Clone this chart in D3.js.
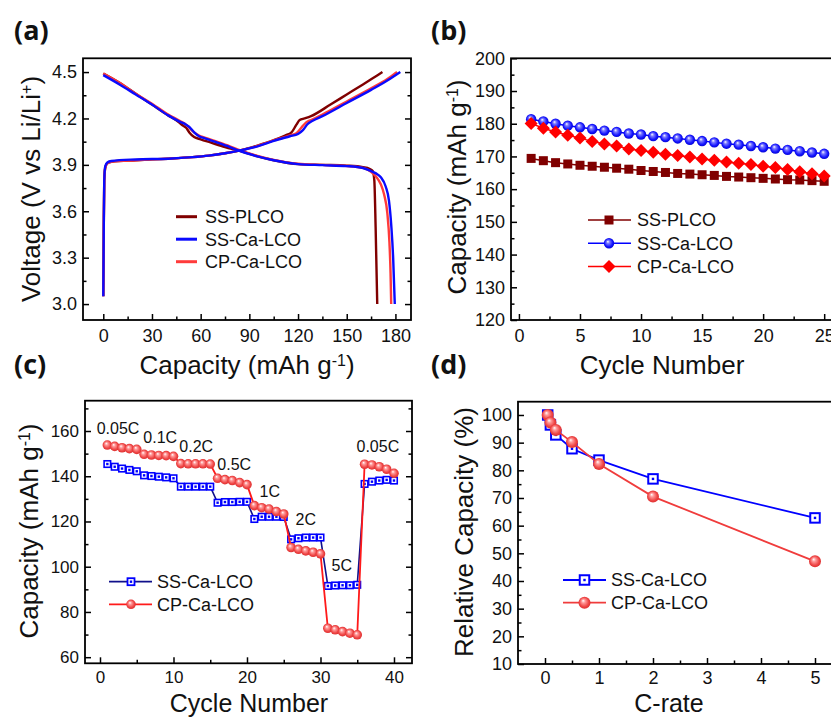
<!DOCTYPE html>
<html><head><meta charset="utf-8">
<script src="https://cdn.jsdelivr.net/npm/d3@7"></script>
<style>
body{margin:0;background:#fff;}
svg{display:block;font-family:"Liberation Sans",Arial,sans-serif;}
</style></head><body>
<svg id="c" width="831" height="718"></svg>
<script>
// ---------- DATA ----------
// (a) voltage profiles [capacity mAh/g, voltage V]
const aPLCOCharge = [[0,3.05],[0.3,3.5],[0.6,3.8],[1.2,3.88],[2.5,3.91],[5,3.92],[20,3.93],[40,3.94],[55,3.95],[65,3.96],[75,3.975],[85,3.995],[95,4.025],[105,4.06],[112,4.09],[116,4.11],[119,4.16],[121,4.19],[124,4.2],[128,4.215],[140,4.29],[150,4.355],[160,4.42],[166,4.46],[172,4.5]];
const aSSCaCharge = [[0,3.05],[0.3,3.5],[0.6,3.8],[1.2,3.89],[2.5,3.915],[5,3.925],[20,3.935],[40,3.94],[55,3.95],[65,3.96],[75,3.975],[85,3.995],[95,4.02],[105,4.055],[115,4.085],[120,4.1],[123,4.125],[126,4.165],[129,4.185],[135,4.215],[150,4.3],[165,4.385],[175,4.445],[183,4.5]];
const aCPCaCharge = [[0,3.05],[0.3,3.5],[0.6,3.8],[1.2,3.88],[2.5,3.91],[5,3.92],[20,3.93],[40,3.94],[55,3.95],[65,3.96],[75,3.975],[85,3.995],[95,4.022],[105,4.058],[115,4.09],[119,4.105],[122,4.14],[125,4.175],[128,4.19],[135,4.225],[150,4.31],[165,4.395],[175,4.455],[181,4.5]];
const aPLCODischarge = [[0,4.49],[10,4.43],[20,4.36],[30,4.29],[40,4.22],[46,4.18],[49,4.155],[51,4.14],[53,4.11],[56,4.08],[60,4.065],[66,4.045],[75,4.015],[84,3.99],[95,3.955],[105,3.93],[120,3.905],[135,3.9],[150,3.895],[160,3.885],[164,3.875],[166,3.86],[167,3.8],[167.8,3.5],[168.8,3.0]];
const aSSCaDischarge = [[0,4.48],[10,4.42],[20,4.355],[30,4.29],[40,4.22],[47,4.18],[51,4.16],[53,4.145],[56,4.11],[59,4.085],[63,4.07],[70,4.045],[78,4.015],[84,3.99],[95,3.955],[105,3.93],[120,3.905],[135,3.898],[150,3.892],[160,3.88],[165,3.86],[168,3.845],[171,3.82],[174,3.76],[176,3.67],[177.5,3.5],[178.6,3.3],[179.6,3.0]];
const aCPCaDischarge = [[0,4.49],[10,4.43],[20,4.36],[30,4.295],[40,4.225],[47,4.185],[51,4.16],[53,4.14],[56,4.11],[59,4.09],[63,4.075],[70,4.05],[78,4.02],[84,3.995],[95,3.958],[105,3.932],[120,3.907],[135,3.9],[150,3.893],[160,3.88],[165,3.855],[168,3.825],[171,3.775],[173,3.71],[175,3.59],[176.3,3.4],[177,3.2],[177.4,3.0]];

// (b) cycling
const bCycles = [1,2,3,4,5,6,7,8,9,10,11,12,13,14,15,16,17,18,19,20,21,22,23,24,25];
const bPLCO = [169.4,168.7,168.1,167.7,167.3,167.0,166.7,166.4,166.1,165.7,165.4,165.1,164.8,164.6,164.4,164.2,163.9,163.7,163.5,163.3,163.1,162.9,162.8,162.6,162.4];
const bSSCa = [181.4,180.7,180.0,179.4,178.9,178.4,177.9,177.5,177.0,176.7,176.2,175.9,175.5,175.1,174.7,174.3,173.9,173.6,173.2,172.8,172.4,172.0,171.6,171.2,170.8];
const bCPCa = [180.1,178.6,177.5,176.5,175.6,174.6,173.8,173.2,172.3,171.8,171.3,170.7,170.3,169.8,169.2,168.8,168.3,167.9,167.5,167.0,166.6,166.0,165.3,164.7,164.0];

// (c) rate performance
const cCycles = [1,2,3,4,5,6,7,8,9,10,11,12,13,14,15,16,17,18,19,20,21,22,23,24,25,26,27,28,29,30,31,32,33,34,35,36,37,38,39,40];
const cSSCa = [145.4,144.2,143.4,142.8,142.2,140.4,140.1,139.8,139.5,139.1,135.4,135.4,135.4,135.4,135.4,128.3,128.6,128.6,128.7,128.7,121.1,122.1,122.1,122.1,122.0,112.1,112.6,112.9,112.9,112.9,91.5,91.7,91.8,91.8,92.0,136.6,137.6,138.1,138.4,138.1];
const cCPCa = [153.8,153.2,152.6,152.2,151.9,149.7,149.4,149.2,149.1,148.8,145.6,145.5,145.5,145.5,145.4,139.1,138.5,138.1,137.2,136.3,127.0,126.1,125.5,124.4,123.3,108.5,107.7,107.0,106.4,105.7,72.8,72.1,71.3,70.6,69.9,145.3,145.0,144.2,143.1,141.3];
const cRateLabels = ["0.05C","0.1C","0.2C","0.5C","1C","2C","5C","0.05C"];
const cRateLabelCycle = [-0.45,5.9,10.8,15.96,21.7,26.6,31.5,34.9];
const cRateLabelCap = [158.7,154.7,150.7,142.8,130.8,118.5,98.1,150.7];

// (d) relative capacity
const dRates = [0.05,0.1,0.2,0.5,1,2,5];
const dSSCa = [100,96.4,92.8,87.8,83.7,76.9,62.8];
const dCPCa = [100,97.3,94.6,90.2,82.3,70.5,47.1];

// tick values
const aXTicks = [0,30,60,90,120,150,180], aXMinor = [15,45,75,105,135,165];
const aYTicks = [3.0,3.3,3.6,3.9,4.2,4.5], aYMinor = [3.15,3.45,3.75,4.05,4.35];
const bXTicks = [0,5,10,15,20,25], bXMinor = [2.5,7.5,12.5,17.5,22.5];
const bYTicks = [120,130,140,150,160,170,180,190,200], bYMinor = [125,135,145,155,165,175,185,195];
const cXTicks = [0,10,20,30,40], cXMinor = [5,15,25,35];
const cYTicks = [60,80,100,120,140,160], cYMinor = [70,90,110,130,150,170];
const dXTicks = [0,1,2,3,4,5], dXMinor = [0.5,1.5,2.5,3.5,4.5];
const dYTicks = [10,20,30,40,50,60,70,80,90,100], dYMinor = [15,25,35,45,55,65,75,85,95];

// ---------- DRAW ----------
const svg = d3.select("#c");
const defs = svg.append("defs");
function sphereGrad(id, c1, c2, c3){
  const g = defs.append("radialGradient").attr("id",id).attr("cx","50%").attr("cy","50%").attr("r","55%").attr("fx","38%").attr("fy","32%");
  g.append("stop").attr("offset","0%").attr("stop-color","#ffffff");
  g.append("stop").attr("offset","28%").attr("stop-color",c1);
  g.append("stop").attr("offset","70%").attr("stop-color",c2);
  g.append("stop").attr("offset","100%").attr("stop-color",c3);
}
sphereGrad("gBlue","#7a7aff","#1414ff","#0000c8");
sphereGrad("gRed","#f99","#ef4646","#d82a2a");

function axes(g, x, y, o){
  const x0=x.range()[0], x1=x.range()[1], yb=y.range()[0], yt=y.range()[1];
  const fs = o.fs || 18;
  const ax = g.append("g").attr("transform",`translate(0,${yb})`)
    .call(d3.axisBottom(x).tickValues(o.xt).tickFormat(o.xf||d3.format("d")).tickSizeInner(-6).tickSizeOuter(0).tickPadding(o.xpad||9));
  const axm = g.append("g").attr("transform",`translate(0,${yb})`)
    .call(d3.axisBottom(x).tickValues(o.xm).tickFormat("").tickSizeInner(-3.5).tickSizeOuter(0));
  const ay = g.append("g").attr("transform",`translate(${x0},0)`)
    .call(d3.axisLeft(y).tickValues(o.yt).tickFormat(o.yf||d3.format("d")).tickSizeInner(-6).tickSizeOuter(0).tickPadding(6));
  const aym = g.append("g").attr("transform",`translate(${x0},0)`)
    .call(d3.axisLeft(y).tickValues(o.ym).tickFormat("").tickSizeInner(-3.5).tickSizeOuter(0));
  const all=[ax,axm,ay,aym];
  if(o.right){
    all.push(g.append("g").attr("transform",`translate(${x1},0)`)
      .call(d3.axisRight(y).tickValues(o.yt).tickFormat("").tickSizeInner(-6).tickSizeOuter(0)));
    all.push(g.append("g").attr("transform",`translate(${x1},0)`)
      .call(d3.axisRight(y).tickValues(o.ym).tickFormat("").tickSizeInner(-3.5).tickSizeOuter(0)));
  }
  all.forEach(a=>{
    a.select(".domain").remove();
    a.selectAll(".tick line").attr("stroke","#000").attr("stroke-width",1.5);
    a.selectAll(".tick text").attr("font-size",fs).attr("font-family",'"Liberation Sans",Arial,sans-serif').attr("fill","#111");
  });
  g.append("rect").attr("x",x0).attr("y",yt).attr("width",x1-x0).attr("height",yb-yt)
    .attr("fill","none").attr("stroke","#000").attr("stroke-width",1.8);
}

function panelLabel(txt, x, y){
  svg.append("text").attr("x",x).attr("y",y).text(txt)
    .attr("font-family",'"Open Sans","Liberation Sans",sans-serif').attr("font-weight",700).attr("font-size",27).attr("fill","#111");
}
function xTitle(parts, cx, by, fs){
  const t = svg.append("text").attr("x",cx).attr("y",by).attr("text-anchor","middle").attr("font-size",fs||26).attr("fill","#111");
  parts.forEach(p=>{ const s=t.append("tspan").text(p.t); if(p.sup){s.attr("baseline-shift","super").attr("font-size",16);} });
}
function yTitle(parts, bx, cy){
  const t = svg.append("text").attr("transform",`translate(${bx},${cy}) rotate(-90)`).attr("text-anchor","middle").attr("font-size",26).attr("fill","#111");
  parts.forEach(p=>{ const s=t.append("tspan").text(p.t); if(p.sup){s.attr("baseline-shift","super").attr("font-size",16);} });
}
const capParts = [{t:"Capacity (mAh g"},{t:"-1",sup:true},{t:")"}];

// ===== Panel (a) =====
const xa = d3.scaleLinear([-12.5,189.6],[83,411]);
const ya = d3.scaleLinear([2.897,4.589],[320,58.3]);
const ga = svg.append("g");
axes(ga, xa, ya, {xt:aXTicks, xm:aXMinor, yt:aYTicks, ym:aYMinor, yf:d3.format(".1f"), right:true});
const lineA = d3.line().x(d=>xa(d[0])).y(d=>ya(d[1])).curve(d3.curveMonotoneX);
const colA = {plco:"#800000", ss:"#0a0aff", cp:"#ff3b3b"};
[[aPLCOCharge,colA.plco],[aPLCODischarge,colA.plco],[aCPCaCharge,colA.cp],[aCPCaDischarge,colA.cp],[aSSCaCharge,colA.ss],[aSSCaDischarge,colA.ss]]
  .forEach(([d,c])=>ga.append("path").datum(d).attr("d",lineA).attr("fill","none").attr("stroke",c).attr("stroke-width",2.4));
[["SS-PLCO",colA.plco],["SS-Ca-LCO",colA.ss],["CP-Ca-LCO",colA.cp]].forEach(([n,c],i)=>{
  const yy = 216.7 + i*22.5;
  ga.append("line").attr("x1",176).attr("x2",197).attr("y1",yy).attr("y2",yy).attr("stroke",c).attr("stroke-width",3);
  ga.append("text").attr("x",205).attr("y",yy).attr("dy","0.35em").attr("font-size",18).attr("fill","#111").text(n);
});
panelLabel("(a)",14,40);
xTitle(capParts, 247, 374);
yTitle([{t:"Voltage (V vs Li/Li"},{t:"+",sup:true},{t:")"}], 40, 189);

// ===== Panel (b) =====
const xb = d3.scaleLinear([-0.65,26.5],[511,842.5]);
const yb = d3.scaleLinear([120,200],[320,58.3]);
const gb = svg.append("g");
axes(gb, xb, yb, {xt:bXTicks, xm:bXMinor, yt:bYTicks, ym:bYMinor});
const lineB = (arr)=>d3.line().x((d,i)=>xb(bCycles[i])).y(d=>yb(d))(arr);
function square(g, cx, cy, s, fill){ g.append("rect").attr("x",cx-s/2).attr("y",cy-s/2).attr("width",s).attr("height",s).attr("fill",fill); }
function diamond(g, cx, cy, s, fill){ g.append("path").attr("d",`M${cx},${cy-s}L${cx+s},${cy}L${cx},${cy+s}L${cx-s},${cy}Z`).attr("fill",fill); }
function sphere(g, cx, cy, r, grad){ g.append("circle").attr("cx",cx).attr("cy",cy).attr("r",r).attr("fill",`url(#${grad})`); }
gb.append("path").attr("d",lineB(bPLCO)).attr("fill","none").attr("stroke","#800000").attr("stroke-width",1.5);
bPLCO.forEach((v,i)=>square(gb, xb(bCycles[i]), yb(v), 9, "#800000"));
gb.append("path").attr("d",lineB(bSSCa)).attr("fill","none").attr("stroke","#0000ff").attr("stroke-width",1.5);
bSSCa.forEach((v,i)=>sphere(gb, xb(bCycles[i]), yb(v), 5.2, "gBlue"));
gb.append("path").attr("d",lineB(bCPCa)).attr("fill","none").attr("stroke","#ff0000").attr("stroke-width",1.5);
bCPCa.forEach((v,i)=>diamond(gb, xb(bCycles[i]), yb(v), 6.5, "#ff0000"));
[["SS-PLCO","#800000","sq"],["SS-Ca-LCO","#0000ff","sp"],["CP-Ca-LCO","#ff0000","di"]].forEach(([n,c,m],i)=>{
  const yy = 220 + i*23.3;
  gb.append("line").attr("x1",588).attr("x2",631).attr("y1",yy).attr("y2",yy).attr("stroke",c).attr("stroke-width",1.5);
  if(m==="sq") square(gb,609,yy,9,c); else if(m==="sp") sphere(gb,609,yy,5.2,"gBlue"); else diamond(gb,609,yy,6.5,c);
  gb.append("text").attr("x",637).attr("y",yy).attr("dy","0.35em").attr("font-size",18).attr("fill","#111").text(n);
});
panelLabel("(b)",431,40);
xTitle([{t:"Cycle Number"}], 662, 374);
yTitle(capParts, 466, 187);

// ===== Panel (c) =====
const xc = d3.scaleLinear([-2.04,42.45],[85,412]);
const yc = d3.scaleLinear([57.3,173.4],[663.3,400.7]);
const gc = svg.append("g");
axes(gc, xc, yc, {xt:cXTicks, xm:cXMinor, yt:cYTicks, ym:cYMinor, right:true, fs:17, xpad:7.5});
function hollowSq(g, cx, cy, s, sw){
  g.append("rect").attr("x",cx-s/2).attr("y",cy-s/2).attr("width",s).attr("height",s).attr("fill","#fff").attr("stroke","#0000ff").attr("stroke-width",sw);
  g.append("rect").attr("x",cx-1.2).attr("y",cy-1.2).attr("width",2.4).attr("height",2.4).attr("fill","#0000ff");
}
const lineC = (arr)=>d3.line().x((d,i)=>xc(cCycles[i])).y(d=>yc(d))(arr);
gc.append("path").attr("d",lineC(cSSCa)).attr("fill","none").attr("stroke","#10108a").attr("stroke-width",1.6);
cSSCa.forEach((v,i)=>hollowSq(gc, xc(cCycles[i]), yc(v), 6.5, 1.6));
gc.append("path").attr("d",lineC(cCPCa)).attr("fill","none").attr("stroke","#ff1a1a").attr("stroke-width",1.8);
cCPCa.forEach((v,i)=>sphere(gc, xc(cCycles[i]), yc(v), 4.8, "gRed"));
cRateLabels.forEach((t,i)=>gc.append("text").attr("x",xc(cRateLabelCycle[i])).attr("y",yc(cRateLabelCap[i])).attr("font-size",16).attr("fill","#111").text(t));
[["SS-Ca-LCO","#10108a","sq"],["CP-Ca-LCO","#ff1a1a","sp"]].forEach(([n,c,m],i)=>{
  const yy = 581.7 + i*22.6;
  gc.append("line").attr("x1",109).attr("x2",152).attr("y1",yy).attr("y2",yy).attr("stroke",c).attr("stroke-width",1.8);
  if(m==="sq") hollowSq(gc,131,yy,7,1.8); else sphere(gc,131,yy,4.8,"gRed");
  gc.append("text").attr("x",157).attr("y",yy).attr("dy","0.35em").attr("font-size",18).attr("fill","#111").text(n);
});
panelLabel("(c)",14,374);
xTitle([{t:"Cycle Number"}], 249, 712, 25);
yTitle(capParts, 37.5, 531);

// ===== Panel (d) =====
const xd = d3.scaleLinear([-0.5,5.8],[518,858.2]);
const yd = d3.scaleLinear([10,104.8],[664,401.7]);
const gd = svg.append("g");
axes(gd, xd, yd, {xt:dXTicks, xm:dXMinor, yt:dYTicks, ym:dYMinor, xpad:7});
const lineD = (arr)=>d3.line().x((d,i)=>xd(dRates[i])).y(d=>yd(d))(arr);
gd.append("path").attr("d",lineD(dSSCa)).attr("fill","none").attr("stroke","#0000ff").attr("stroke-width",1.8);
dSSCa.forEach((v,i)=>hollowSq(gd, xd(dRates[i]), yd(v), 9.5, 2));
gd.append("path").attr("d",lineD(dCPCa)).attr("fill","none").attr("stroke","#f03c3c").attr("stroke-width",1.8);
dCPCa.forEach((v,i)=>sphere(gd, xd(dRates[i]), yd(v), 6, "gRed"));
[["SS-Ca-LCO","#0000ff","sq"],["CP-Ca-LCO","#f03c3c","sp"]].forEach(([n,c,m],i)=>{
  const yy = 580 + i*22.7;
  gd.append("line").attr("x1",563).attr("x2",606).attr("y1",yy).attr("y2",yy).attr("stroke",c).attr("stroke-width",1.8);
  if(m==="sq") hollowSq(gd,584.5,yy,9.5,2); else sphere(gd,584.5,yy,6,"gRed");
  gd.append("text").attr("x",611).attr("y",yy).attr("dy","0.35em").attr("font-size",18).attr("fill","#111").text(n);
});
panelLabel("(d)",431,374);
xTitle([{t:"C-rate"}], 669, 712, 25);
yTitle([{t:"Relative Capacity (%)"}], 473, 532);
</script>
</body></html>
